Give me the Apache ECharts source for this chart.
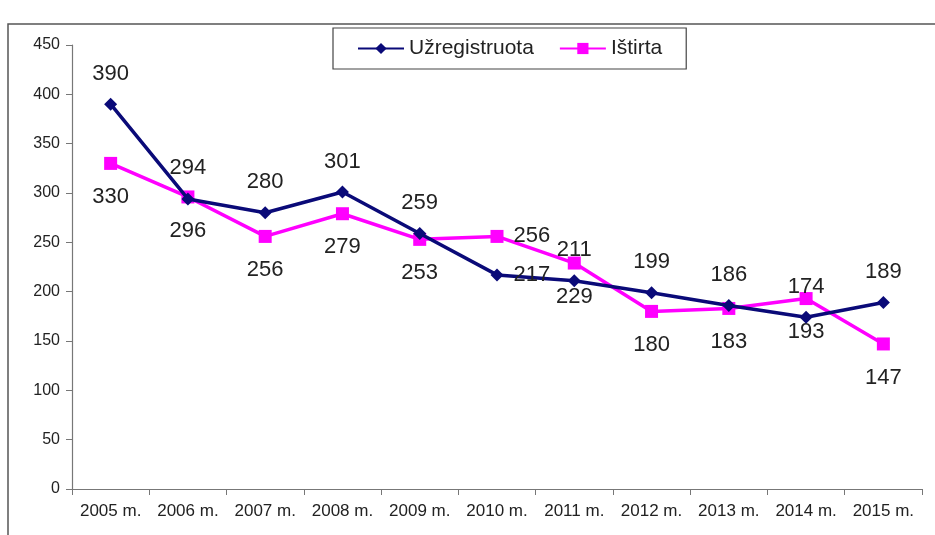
<!DOCTYPE html>
<html lang="lt">
<head>
    <meta charset="UTF-8">
    <script src="https://cdn.jsdelivr.net/npm/echarts@6/dist/echarts.min.js"></script>
    <title>Užregistruota / Ištirta</title>
    <style>
        html, body { margin: 0; padding: 0; background: #fff; }
    </style>
</head>
<body>
<div id="main" style="width: 935px;height:535px;"></div>
<script type="text/javascript">

    // metai
    var years = ['2005 m.', '2006 m.', '2007 m.', '2008 m.', '2009 m.', '2010 m.',
                 '2011 m.', '2012 m.', '2013 m.', '2014 m.', '2015 m.'];
    var registered = [390, 294, 280, 301, 259, 217, 211, 199, 186, 174, 189];
    var investigated = [330, 296, 256, 279, 253, 256, 229, 180, 183, 193, 147];
    var yTicks = [0, 50, 100, 150, 200, 250, 300, 350, 400, 450];

    // taškai, kur etiketė dedama dešinėje
    var rightLabelIdx = [5];

    function withLabels(values, pos, dist) {
        return values.map(function (v, i) {
            if (rightLabelIdx.indexOf(i) >= 0) {
                return { value: v, label: { position: 'right', distance: 10 } };
            }
            return { value: v, label: { position: pos, distance: dist } };
        });
    }

    var myChart = echarts.init(document.getElementById('main'));

    var labelFont = {
        show: true,
        fontFamily: 'Arial, "Liberation Sans", sans-serif',
        fontSize: 22,
        color: '#222'
    };

    var option = {
        animation: false,
        graphic: [{
            type: 'rect',
            shape: { x: 8, y: 24, width: 940, height: 530 },
            style: { fill: 'none', stroke: '#555', lineWidth: 1.5 }
        }],
        legend: {
            left: 333,
            top: 28,
            padding: [10, 24, 10, 24],
            borderColor: '#444',
            borderWidth: 1.2,
            itemWidth: 46,
            itemHeight: 14,
            itemGap: 25,
            textStyle: {
                fontFamily: 'Arial, "Liberation Sans", sans-serif',
                fontSize: 21,
                color: '#222'
            },
            data: ['Užregistruota', 'Ištirta']
        },
        grid: {
            left: 72,
            right: 13,
            top: 45,
            bottom: 46
        },
        xAxis: {
            type: 'category',
            data: years,
            boundaryGap: true,
            axisLine: { lineStyle: { color: '#777', width: 1.2 } },
            axisTick: { show: true, length: 6, lineStyle: { color: '#777' } },
            axisLabel: {
                margin: 14,
                fontFamily: 'Arial, "Liberation Sans", sans-serif',
                fontSize: 17,
                color: '#222',
                interval: 0
            }
        },
        yAxis: {
            type: 'value',
            min: yTicks[0],
            max: yTicks[yTicks.length - 1],
            interval: 50,
            splitLine: { show: false },
            axisLine: { show: true, lineStyle: { color: '#777', width: 1.2 } },
            axisTick: { show: true, length: 6, lineStyle: { color: '#777' } },
            axisLabel: {
                margin: 12,
                fontFamily: 'Arial, "Liberation Sans", sans-serif',
                fontSize: 16,
                color: '#222'
            }
        },
        series: [{
            name: 'Užregistruota',
            type: 'line',
            data: withLabels(registered, 'top', 13),
            symbol: 'diamond',
            symbolSize: 13,
            itemStyle: { color: '#0a0a78' },
            lineStyle: { color: '#0a0a78', width: 3.5 },
            label: labelFont,
            z: 3
        }, {
            name: 'Ištirta',
            type: 'line',
            data: withLabels(investigated, 'bottom', 16),
            symbol: 'rect',
            symbolSize: 13,
            itemStyle: { color: '#ff00ff' },
            lineStyle: { color: '#ff00ff', width: 3.5 },
            label: labelFont,
            z: 2
        }]
    };

    myChart.setOption(option);

</script>
</body>
</html>
